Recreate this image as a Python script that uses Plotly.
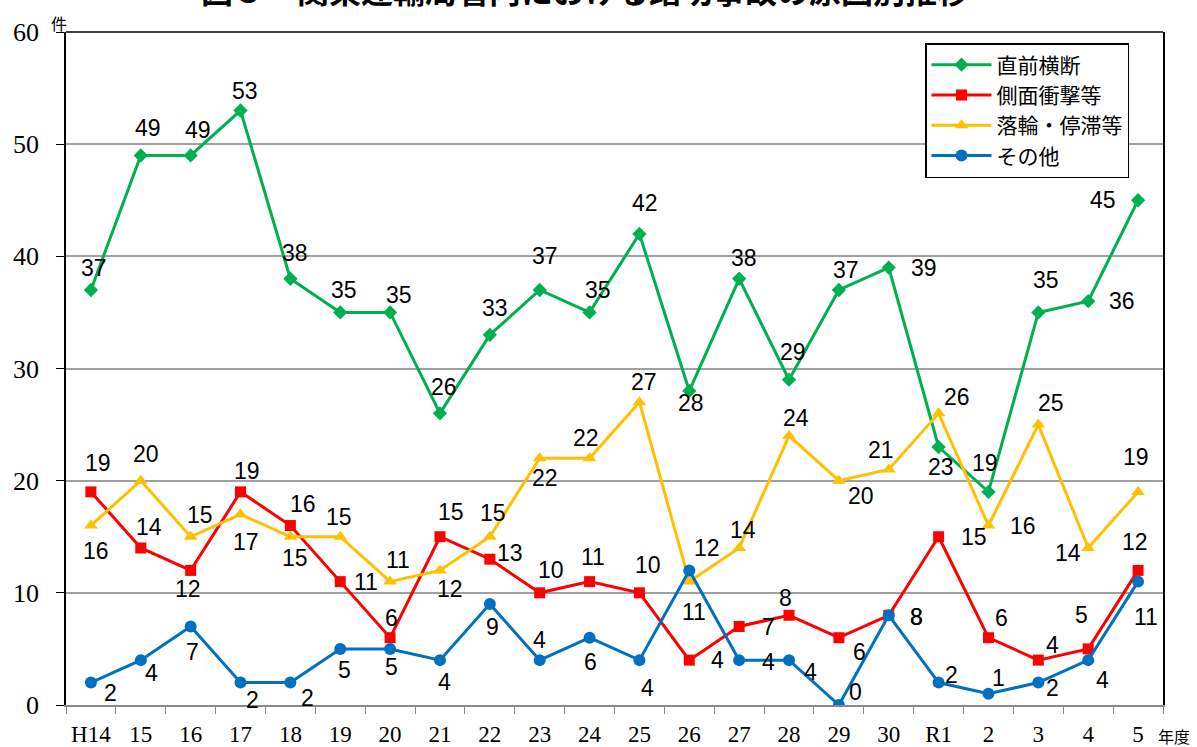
import plotly.graph_objects as go

years = ["H14", "15", "16", "17", "18", "19", "20", "21", "22", "23", "24",
         "25", "26", "27", "28", "29", "30", "R1", "2", "3", "4", "5"]

chokuzen = [37, 49, 49, 53, 38, 35, 35, 26, 33, 37, 35, 42, 28, 38, 29, 37, 39, 23, 19, 35, 36, 45]
sokumen = [19, 14, 12, 19, 16, 11, 6, 15, 13, 10, 11, 10, 4, 7, 8, 6, 8, 15, 6, 4, 5, 12]
rakurin = [16, 20, 15, 17, 15, 15, 11, 12, 15, 22, 22, 27, 11, 14, 24, 20, 21, 26, 16, 25, 14, 19]
sonota = [2, 4, 7, 2, 2, 5, 5, 4, 9, 4, 6, 4, 12, 4, 4, 0, 8, 2, 1, 2, 4, 11]

names = ["直前横断", "側面衝撃等", "落輪・停滞等", "その他"]

# label offsets (pixels: x shift, y shift) -- styling only
off_g = [(3, 22), (7, 27), (7, 25), (4, 20), (5, 26), (4, 22), (9, 17), (4, 26), (5, 27), (5, 34), (8, 22),
         (6, 31), (2, -12), (5, 21), (4, 28), (7, 20), (35, 0), (2, -20), (-3, 29), (8, 32), (34, 0), (-35, 0)]
off_r = [(7, 29), (8, 21), (-3, -19), (6, 21), (13, 22), (26, 0), (1, 20), (11, 25), (20, 6), (11, 23), (3, 25),
         (9, 28), (28, 0), (29, -1), (-4, 17), (21, -14), (28, -2), (35, 0), (13, 20), (14, 15), (-7, 34), (-3, 28)]
off_y = [(5, -25), (5, 27), (9, 22), (5, -28), (5, -21), (-1, 20), (8, 22), (10, -19), (3, 24), (5, -20), (-4, 20),
         (5, 20), (5, -30), (4, 18), (7, 18), (22, -15), (-8, 19), (18, 16), (35, 0), (13, 22), (-20, -5), (-2, 35)]
off_b = [(20, -10), (11, -13), (2, -26), (12, -17), (17, -15), (4, -21), (1, -18), (5, -22), (3, -23), (0, 20), (1, -24),
         (8, -28), (18, 22), (29, -2), (21, -12), (17, 13), (28, -2), (13, 8), (10, 16), (14, -5), (14, -20), (8, -35)]

series = [
    (names[0], chokuzen, "#00B050", "diamond", 11, off_g),
    (names[1], sokumen, "#FF0000", "square", 11, off_r),
    (names[2], rakurin, "#FFC000", "triangle-up", 12, off_y),
    (names[3], sonota, "#0070C0", "circle", 12, off_b),
]

fig = go.Figure()
annotations = []
label_font = dict(family="Liberation Sans Narrow, Arial Narrow, Liberation Sans, sans-serif", size=23, color="black")
for name, vals, color, sym, msize, offs in series:
    fig.add_trace(go.Scatter(
        x=years, y=vals, name=name, mode="lines+markers",
        line=dict(color=color, width=3),
        marker=dict(symbol=sym, size=msize, color=color),
    ))
    for i, (yv, (dx, dy)) in enumerate(zip(vals, offs)):
        annotations.append(dict(x=i, y=yv, xref="x", yref="y", text=str(yv), showarrow=False,
                                xshift=dx, yshift=dy, font=label_font))

cjk = "Noto Sans CJK JP, sans-serif"
annotations.append(dict(xref="paper", yref="paper", x=0.473, y=1 + 43 / 673, xanchor="center", yanchor="middle",
                        text="<b>図５　関東運輸局管内における踏切事故の原因別推移</b>", showarrow=False,
                        font=dict(family=cjk, size=32, color="black")))
annotations.append(dict(xref="paper", yref="paper", x=-7 / 1097, y=1 + 9 / 673, xanchor="center", yanchor="middle",
                        text="件", showarrow=False, font=dict(family=cjk, size=16, color="black")))
annotations.append(dict(xref="paper", yref="paper", x=1 + 11 / 1097, y=-31 / 673, xanchor="center", yanchor="middle",
                        text="年度", showarrow=False, font=dict(family=cjk, size=16, color="black")))

fig.update_layout(
    width=1197, height=747,
    margin=dict(l=66, r=34, t=32, b=42, autoexpand=False),
    paper_bgcolor="white", plot_bgcolor="white",
    showlegend=True,
    legend=dict(x=(925 - 66) / 1097, y=(705 - 43) / 673, xanchor="left", yanchor="top",
                bgcolor="white", bordercolor="black", borderwidth=1.5,
                font=dict(family=cjk, size=21, color="black"), tracegroupgap=0,
                itemwidth=60),
    annotations=annotations,
    shapes=[dict(type="line", xref="paper", yref="paper", x0=0, x1=1, y0=1, y1=1,
                 line=dict(color="black", width=1.5))],
    font=dict(family="Liberation Serif, serif", color="black"),
)
fig.update_xaxes(type="category", categoryorder="array", categoryarray=years,
                 range=[-0.5, 21.5], tickangle=0, automargin=False,
                 tickson="boundaries", ticks="outside", ticklen=7, tickcolor="#888888",
                 showline=True, linecolor="#888888", linewidth=1.5, showgrid=False,
                 tickfont=dict(family="Liberation Serif, serif", size=23, color="black"),
                 ticklabelstandoff=8)
fig.update_yaxes(range=[0, 60], dtick=10, ticks="outside", ticklen=8, tickcolor="black",
                 automargin=False,
                 showline=True, linecolor="black", linewidth=1.5, mirror=True,
                 showgrid=True, gridcolor="#a0a0a0", gridwidth=1.5, zeroline=False,
                 tickfont=dict(family="Liberation Serif, serif", size=26, color="black"),
                 ticklabelstandoff=12)

fig.write_html("out.html", config={"displayModeBar": False},
               post_script="document.body.style.margin='0px';")
